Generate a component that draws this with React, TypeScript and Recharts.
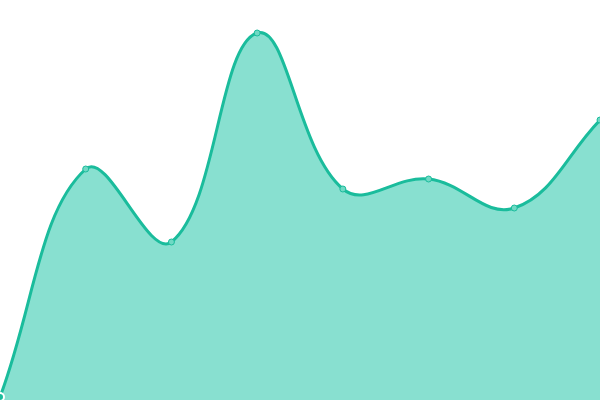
import { AreaChart, Area, XAxis, YAxis } from "recharts";

const categories = ["A", "B", "C", "D", "E", "F", "G", "H"];
const values = [3, 231, 158, 367, 211, 221, 192, 280];

const data = categories.map((name, i) => ({ name, value: values[i] }));

const TENSION = 0.4;

// spline with distance-weighted control points (tension 0.4)
function tensionCurve(context: any) {
  return {
    _line: NaN as number,
    _x: [] as number[],
    _y: [] as number[],
    areaStart() {
      this._line = 0;
    },
    areaEnd() {
      this._line = NaN;
    },
    lineStart() {
      this._x = [];
      this._y = [];
    },
    point(x: number, y: number) {
      this._x.push(+x);
      this._y.push(+y);
    },
    lineEnd() {
      const x = this._x;
      const y = this._y;
      const n = x.length;
      if (n) {
        if (this._line) context.lineTo(x[0], y[0]);
        else context.moveTo(x[0], y[0]);
        if (n === 2) {
          context.lineTo(x[1], y[1]);
        } else if (n > 2) {
          const cpPrev: number[][] = [];
          const cpNext: number[][] = [];
          for (let i = 0; i < n; i++) {
            const px = i > 0 ? x[i - 1] : x[i];
            const py = i > 0 ? y[i - 1] : y[i];
            const nx = i < n - 1 ? x[i + 1] : x[i];
            const ny = i < n - 1 ? y[i + 1] : y[i];
            const d01 = Math.hypot(x[i] - px, y[i] - py);
            const d12 = Math.hypot(nx - x[i], ny - y[i]);
            let s01 = d01 / (d01 + d12);
            let s12 = d12 / (d01 + d12);
            if (isNaN(s01)) s01 = 0;
            if (isNaN(s12)) s12 = 0;
            const fa = TENSION * s01;
            const fb = TENSION * s12;
            cpPrev.push([x[i] - fa * (nx - px), y[i] - fa * (ny - py)]);
            cpNext.push([x[i] + fb * (nx - px), y[i] + fb * (ny - py)]);
          }
          for (let i = 0; i < n - 1; i++) {
            context.bezierCurveTo(
              cpNext[i][0],
              cpNext[i][1],
              cpPrev[i + 1][0],
              cpPrev[i + 1][1],
              x[i + 1],
              y[i + 1]
            );
          }
        }
      }
      if (this._line || (this._line !== 0 && n === 1)) context.closePath();
      this._line = 1 - this._line;
    },
  };
}

export default function App() {
  return (
    <>
      <style>{"body { margin: 0; }"}</style>
      <AreaChart
        width={600}
        height={400}
        data={data}
        margin={{ top: 0, right: 0, left: 0, bottom: 0 }}
      >
        <XAxis dataKey="name" hide />
        <YAxis hide domain={[0, 400]} />
        <Area
          type={tensionCurve as any}
          dataKey="value"
          stroke="#1abc9c"
          strokeWidth={3}
          fill="#88e0d0"
          fillOpacity={1}
          dot={{ r: 3, fill: "#6fd9c4", stroke: "#1abc9c", strokeWidth: 1 }}
          isAnimationActive={false}
        />
      </AreaChart>
    </>
  );
}
